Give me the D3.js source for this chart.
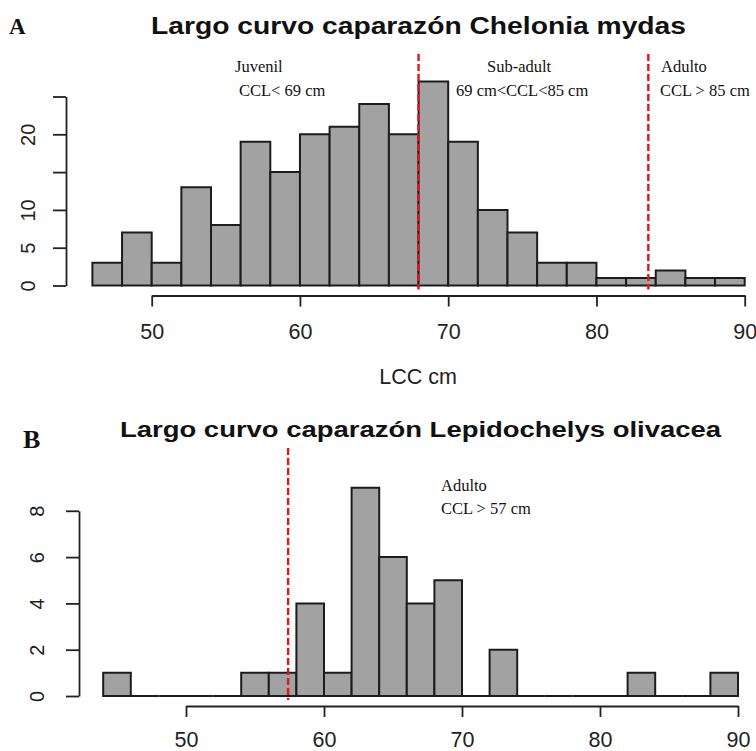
<!DOCTYPE html>
<html>
<head>
<meta charset="utf-8">
<script src="https://cdn.jsdelivr.net/npm/d3@7"></script>
<style>
  body { margin: 0; background: #fff; }
  svg { display: block; }
</style>
</head>
<body>
<div id="chart"></div>
<script>
// Panel A: Chelonia mydas, bins of 2 cm
const binsA = [46, 48, 50, 52, 54, 56, 58, 60, 62, 64, 66, 68, 70, 72, 74, 76, 78, 80, 82, 84, 86, 88];
const countsA = [3, 7, 3, 13, 8, 19, 15, 20, 21, 24, 20, 27, 19, 10, 7, 3, 3, 1, 1, 2, 1, 1];
const xTicksA = [50, 60, 70, 80, 90];
const yTicksA = [0, 5, 10, 15, 20, 25];
const yLabelsA = ["0", "5", "10", "", "20", ""];
const cutsA = [68, 83.5];

// Panel B: Lepidochelys olivacea
const binsB = [44, 46, 48, 50, 52, 54, 56, 58, 60, 62, 64, 66, 68, 70, 72, 74, 76, 78, 80, 82, 84, 86, 88];
const countsB = [1, 0, 0, 0, 0, 1, 1, 4, 1, 9, 6, 4, 5, 0, 2, 0, 0, 0, 0, 1, 0, 0, 1];
const xTicksB = [50, 60, 70, 80, 90];
const yTicksB = [0, 2, 4, 6, 8];
const yLabelsB = ["0", "2", "4", "6", "8"];
const cutsB = [57.4];

const binWidth = 2;

const svg = d3.select("#chart")
  .append("svg")
  .attr("width", 756)
  .attr("height", 751);

svg.append("rect").attr("width", 756).attr("height", 751).attr("fill", "#fff");

function drawPanel(p) {
  const x = d3.scaleLinear().domain([50, 90]).range(p.xRange);
  const y = d3.scaleLinear().domain([0, p.yMax]).range(p.yRange);
  const g = svg.append("g");

  // bars (paths so that empty bins still show as a line on the baseline)
  g.selectAll(".bar")
    .data(p.bins.map((b, i) => [b, p.counts[i]]))
    .enter().append("path")
    .attr("class", "bar")
    .attr("d", d => {
      const x0 = x(d[0]), x1 = x(d[0] + binWidth);
      return `M${x0},${y(0)}V${y(d[1])}H${x1}V${y(0)}Z`;
    })
    .attr("fill", "#a2a2a2")
    .attr("stroke", "#1c1c1c")
    .attr("stroke-width", 2);

  // x axis
  const xa = g.append("g")
    .attr("transform", `translate(0, ${p.xAxisY})`)
    .call(d3.axisBottom(x).tickValues(p.xTicks).tickSize(11).tickSizeOuter(0));
  xa.select(".domain").attr("stroke", "#222").attr("stroke-width", 1.8);
  xa.selectAll(".tick line").attr("stroke", "#222").attr("stroke-width", 1.8);
  xa.selectAll("text")
    .attr("y", p.xLabelDy)
    .attr("dy", 0)
    .style("font-family", "Liberation Sans, Arial, sans-serif")
    .style("font-size", "21.5px")
    .attr("fill", "#222");

  // y axis
  const ya = g.append("g")
    .attr("transform", `translate(${p.yAxisX}, 0)`)
    .call(d3.axisLeft(y).tickValues(p.yTicks).tickSize(13).tickSizeOuter(0)
      .tickFormat((d, i) => p.yLabels[i]));
  ya.select(".domain").attr("stroke", "#222").attr("stroke-width", 1.8);
  ya.selectAll(".tick line").attr("stroke", "#222").attr("stroke-width", 1.8);
  ya.selectAll("text")
    .attr("transform", "rotate(-90)")
    .attr("x", 0)
    .attr("y", p.yLabelDx)
    .attr("dy", 0)
    .attr("text-anchor", "middle")
    .style("font-family", "Liberation Sans, Arial, sans-serif")
    .style("font-size", "20px")
    .attr("fill", "#222");

  // red dashed cut lines
  g.selectAll(".cut")
    .data(p.cuts)
    .enter().append("line")
    .attr("class", "cut")
    .attr("x1", d => x(d)).attr("x2", d => x(d))
    .attr("y1", p.cutTop).attr("y2", y(0) + 4)
    .attr("stroke", "#e3141c")
    .attr("stroke-width", 2.4)
    .attr("stroke-dasharray", "7,3");

  // title
  g.append("text")
    .attr("x", p.titleX)
    .attr("y", p.titleY)
    .attr("text-anchor", "middle")
    .attr("textLength", p.titleLen)
    .attr("lengthAdjust", "spacingAndGlyphs")
    .style("font-family", "Liberation Sans, Arial, sans-serif")
    .style("font-size", p.titleSize + "px")
    .style("font-weight", "bold")
    .attr("fill", "#111")
    .text(p.title);

  // panel letter
  g.append("text")
    .attr("x", p.letterX)
    .attr("y", p.letterY)
    .style("font-family", "Liberation Serif, Times New Roman, serif")
    .style("font-size", p.letterSize + "px")
    .style("font-weight", "bold")
    .attr("fill", "#111")
    .text(p.letter);

  // stage annotations
  g.selectAll(".note")
    .data(p.notes)
    .enter().append("text")
    .attr("class", "note")
    .attr("x", d => d.x)
    .attr("y", d => d.y)
    .style("font-family", "Liberation Serif, Times New Roman, serif")
    .style("font-size", "16.5px")
    .attr("fill", "#111")
    .text(d => d.t);

  return g;
}

const gA = drawPanel({
  bins: binsA, counts: countsA, xTicks: xTicksA, yTicks: yTicksA, yLabels: yLabelsA, cuts: cutsA,
  xRange: [151.7, 744.7], yMax: 25, yRange: [285.5, 96.5],
  xAxisY: 295.5, xLabelDy: 43.5, yAxisX: 66, yLabelDx: -31, cutTop: 54,
  title: "Largo curvo caparazón Chelonia mydas", titleX: 418.5, titleY: 33.5, titleSize: 24, titleLen: 535,
  letter: "A", letterX: 9, letterY: 33.5, letterSize: 23,
  notes: [
    { t: "Juvenil", x: 235, y: 72 },
    { t: "CCL< 69 cm", x: 239, y: 96 },
    { t: "Sub-adult", x: 487, y: 72 },
    { t: "69 cm<CCL<85 cm", x: 456, y: 96 },
    { t: "Adulto", x: 661, y: 72 },
    { t: "CCL > 85 cm", x: 660, y: 96 }
  ]
});

// x axis label for panel A
gA.append("text")
  .attr("x", 418)
  .attr("y", 383.5)
  .attr("text-anchor", "middle")
  .style("font-family", "Liberation Sans, Arial, sans-serif")
  .style("font-size", "21.5px")
  .attr("fill", "#222")
  .text("LCC cm");

drawPanel({
  bins: binsB, counts: countsB, xTicks: xTicksB, yTicks: yTicksB, yLabels: yLabelsB, cuts: cutsB,
  xRange: [186, 738], yMax: 8, yRange: [696, 510.8],
  xAxisY: 706, xLabelDy: 40.5, yAxisX: 79, yLabelDx: -35.5, cutTop: 448,
  title: "Largo curvo caparazón Lepidochelys olivacea", titleX: 420.5, titleY: 437, titleSize: 22, titleLen: 601,
  letter: "B", letterX: 23, letterY: 448, letterSize: 26,
  notes: [
    { t: "Adulto", x: 441, y: 491 },
    { t: "CCL > 57 cm", x: 441, y: 514 }
  ]
});
</script>
</body>
</html>
